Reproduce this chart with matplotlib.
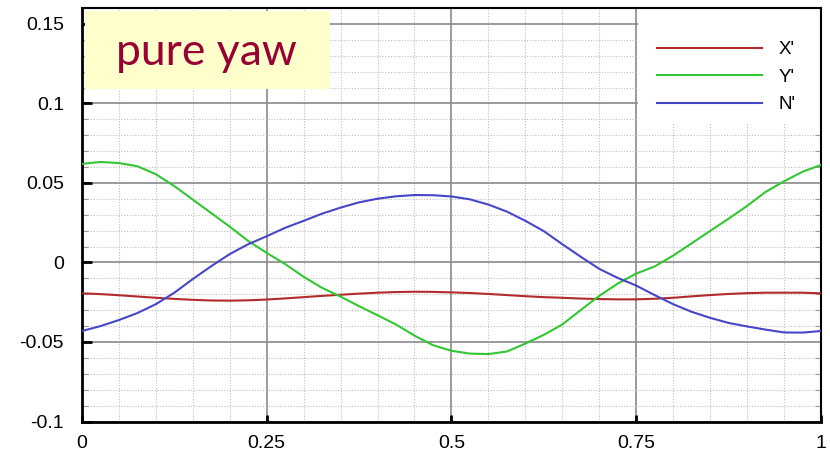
import matplotlib
matplotlib.use("Agg")
import matplotlib.pyplot as plt
from matplotlib.patches import Rectangle
from matplotlib.ticker import MultipleLocator, FixedLocator

# Non-dimensional time over one yaw period
t = [0.000, 0.025, 0.050, 0.075, 0.100, 0.125, 0.150, 0.175, 0.200, 0.225,
     0.250, 0.275, 0.300, 0.325, 0.350, 0.375, 0.400, 0.425, 0.450, 0.475,
     0.500, 0.525, 0.550, 0.575, 0.600, 0.625, 0.650, 0.675, 0.700, 0.725,
     0.750, 0.775, 0.800, 0.825, 0.850, 0.875, 0.900, 0.925, 0.950, 0.975,
     1.000]

# Surge force X'
x_force = [-0.0194, -0.0199, -0.0206, -0.0214, -0.0222, -0.0229, -0.0235, -0.0239,
           -0.0240, -0.0238, -0.0233, -0.0226, -0.0218, -0.0210, -0.0203, -0.0196,
           -0.0190, -0.0186, -0.0184, -0.0185, -0.0188, -0.0192, -0.0198, -0.0205,
           -0.0212, -0.0218, -0.0222, -0.0227, -0.0230, -0.0232, -0.0232, -0.0228,
           -0.0222, -0.0213, -0.0205, -0.0198, -0.0193, -0.0190, -0.0190, -0.0190,
           -0.0194]

# Sway force Y'
y_force = [0.0620, 0.0632, 0.0625, 0.0605, 0.0555, 0.0480, 0.0395, 0.0310,
           0.0225, 0.0135, 0.0060, -0.0010, -0.0090, -0.0160, -0.0215, -0.0275,
           -0.0332, -0.0390, -0.0460, -0.0520, -0.0555, -0.0573, -0.0576, -0.0560,
           -0.0510, -0.0455, -0.0390, -0.0299, -0.0210, -0.0133, -0.0070, -0.0025,
           0.0043, 0.0120, 0.0198, 0.0275, 0.0355, 0.0443, 0.0510, 0.0570,
           0.0613]

# Yaw moment N'
n_moment = [-0.0431, -0.0400, -0.0362, -0.0318, -0.0262, -0.0190, -0.0104, -0.0023,
            0.0053, 0.0115, 0.0165, 0.0218, 0.0262, 0.0307, 0.0345, 0.0378,
            0.0401, 0.0416, 0.0424, 0.0423, 0.0415, 0.0397, 0.0364, 0.0320,
            0.0262, 0.0197, 0.0115, 0.0036, -0.0040, -0.0097, -0.0145, -0.0205,
            -0.0262, -0.0310, -0.0348, -0.0380, -0.0402, -0.0422, -0.0440, -0.0441,
            -0.0431]

series_labels = ["X'", "Y'", "N'"]
series_colors = ["#B22B2B", "#33C633", "#4646C8"]

x_ticks = [0, 0.25, 0.5, 0.75, 1]
x_tick_labels = ["0", "0.25", "0.5", "0.75", "1"]
y_ticks = [-0.1, -0.05, 0, 0.05, 0.1, 0.15]
y_tick_labels = ["-0.1", "-0.05", "0", "0.05", "0.1", "0.15"]

plt.rcParams['font.family'] = ['Liberation Sans', 'DejaVu Sans']

fig = plt.figure(figsize=(8.30, 4.55), dpi=100)
ax = fig.add_axes([0.0988, 0.0736, 0.8902, 0.9088])

lines = []
for vals, lab, col in zip([x_force, y_force, n_moment], series_labels, series_colors):
    ln, = ax.plot(t, vals, color=col, lw=1.5, label=lab, zorder=3)
    lines.append(ln)

ax.set_xlim(0, 1)
ax.set_ylim(-0.1, 0.16)

ax.xaxis.set_major_locator(FixedLocator(x_ticks))
ax.yaxis.set_major_locator(FixedLocator(y_ticks))
ax.set_xticklabels(x_tick_labels)
ax.set_yticklabels(y_tick_labels)
ax.xaxis.set_minor_locator(MultipleLocator(0.05))
ax.yaxis.set_minor_locator(MultipleLocator(0.01))

ax.grid(which='major', color='#8A8A8A', lw=1.2, ls='-', zorder=1)
ax.grid(which='minor', color='#BDBDBD', lw=0.8, ls=(0, (1, 1.5)), zorder=1)
ax.set_axisbelow(True)

ax.tick_params(which='major', direction='in', length=7, width=2, color='black',
               labelsize=14, right=False, top=False)
ax.tick_params(axis='y', which='major', pad=13)
ax.tick_params(axis='x', which='major', pad=10, length=5)
ax.tick_params(which='minor', direction='in', length=4, width=0.8, color='#9A9A9A',
               right=True, top=False, bottom=False)

for side, sp in ax.spines.items():
    sp.set_color('black')
    sp.set_linewidth(1.5)
ax.spines['left'].set_linewidth(2)
ax.spines['bottom'].set_linewidth(2)

# White panel behind the legend
ax.add_patch(Rectangle((0.752, 0.722), 0.248, 0.278, transform=ax.transAxes,
                       facecolor='white', edgecolor='none', zorder=2))
ax.legend(handles=lines, loc='center left', bbox_to_anchor=(0.778, 0.833),
          frameon=False, borderpad=0, borderaxespad=0, fontsize=13.5,
          handlelength=5.6, handletextpad=0.9, labelspacing=0.55)

# Title panel
ax.add_patch(Rectangle((0.004, 0.804), 0.331, 0.189, transform=ax.transAxes,
                       facecolor='#FFFFCC', edgecolor='none', zorder=2))
ax.text(0.169, 0.862, "pure yaw", transform=ax.transAxes, ha='center',
        va='baseline', fontsize=32, color='#990033', family=['Lato', 'DejaVu Sans'],
        zorder=4)

fig.savefig("out.png", dpi=100)
